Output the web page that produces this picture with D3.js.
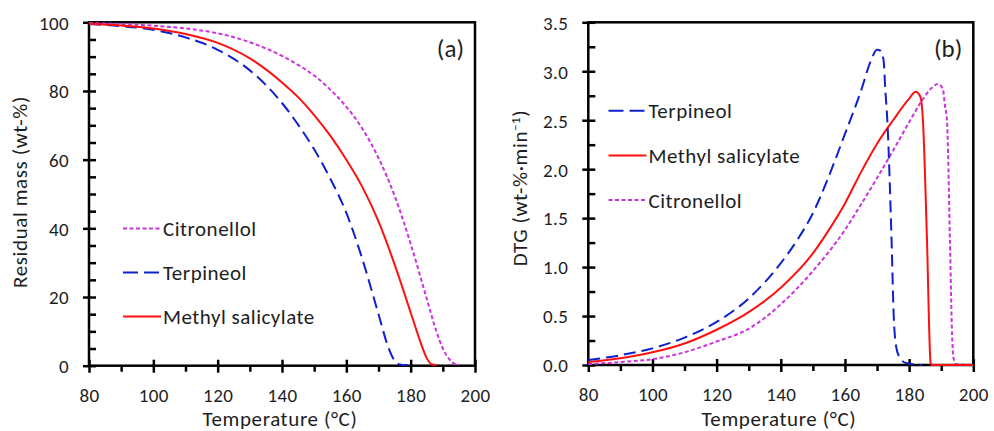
<!DOCTYPE html>
<html>
<head>
<meta charset="utf-8">
<script src="https://cdn.jsdelivr.net/npm/d3@7"></script>
<style>
  body { margin: 0; background: #fff; }
  text { font-family: Carlito, Lato, sans-serif; fill: #1e1e1e; }
</style>
</head>
<body>
<svg id="chart" width="994" height="431"></svg>
<script>

// ---- panel (a): residual mass, wt-%
var tgaTerpT = [80, 90, 100, 110, 120, 130, 140, 145, 150, 155, 160, 165, 170, 173, 175, 177, 179];
var tgaTerp  = [99.5, 98.9, 97.8, 95.6, 92.0, 86.0, 76.5, 70.2, 63.0, 54.5, 44.5, 31.0, 15.0, 5.5, 1.5, 0.3, 0.2];

var tgaMethT = [80, 90, 100, 110, 120, 130, 140, 145, 150, 155, 160, 165, 170, 175, 180, 183, 185, 186.5, 188];
var tgaMeth  = [99.6, 99.1, 98.2, 96.6, 94.0, 89.5, 82.5, 78.2, 73.0, 67.0, 60.0, 52.0, 42.0, 29.5, 15.5, 7.0, 2.2, 0.4, 0.2];

var tgaCitrT = [80, 90, 100, 110, 120, 130, 140, 145, 150, 155, 160, 165, 170, 175, 180, 185, 188, 190, 192, 194, 195];
var tgaCitr  = [99.8, 99.5, 99.0, 98.2, 96.8, 94.2, 90.2, 87.6, 84.5, 80.4, 75.4, 69.0, 60.5, 49.5, 35.5, 19.5, 10.0, 5.0, 1.9, 0.4, 0.3];

// ---- panel (b): DTG, wt-%/min
var dtgTerpT = [80, 90, 100, 110, 120, 130, 140, 145, 150, 155, 160, 165, 168, 170, 171, 172, 172.6, 173.2, 174.5, 175.2, 175.8, 177, 179, 184];
var dtgTerp  = [0.05, 0.10, 0.17, 0.28, 0.44, 0.68, 1.04, 1.27, 1.55, 1.93, 2.36, 2.80, 3.10, 3.22, 3.21, 3.12, 2.80, 2.50, 1.30, 0.50, 0.22, 0.08, 0.02, 0];

var dtgMethT = [80, 90, 100, 110, 120, 130, 140, 150, 155, 160, 165, 170, 175, 180, 182, 183.5, 184.3, 185.5, 186.7, 187, 200];
var dtgMeth  = [0.03, 0.07, 0.13, 0.22, 0.36, 0.54, 0.79, 1.14, 1.38, 1.65, 1.97, 2.26, 2.50, 2.72, 2.79, 2.74, 2.50, 1.35, 0.02, 0, 0];

var dtgCitrT = [80, 90, 100, 110, 120, 130, 140, 150, 160, 165, 170, 175, 180, 184, 187, 189, 190.5, 191.2, 191.8, 192.7, 193.4, 193.8, 194.5, 200];
var dtgCitr  = [0.01, 0.03, 0.06, 0.13, 0.24, 0.37, 0.62, 0.96, 1.38, 1.64, 1.91, 2.19, 2.48, 2.70, 2.83, 2.87, 2.82, 2.64, 2.50, 1.30, 0.30, 0.08, 0.01, 0];

var xTicks = [80, 100, 120, 140, 160, 180, 200];
var xMinor = [90, 110, 130, 150, 170, 190];
var yTicksA = [0, 20, 40, 60, 80, 100];
var yMinorA = [5, 10, 15, 25, 30, 35, 45, 50, 55, 65, 70, 75, 85, 90, 95];
var yTicksB = [0, 0.5, 1, 1.5, 2, 2.5, 3, 3.5];
var yMinorB = [0.25, 0.75, 1.25, 1.75, 2.25, 2.75, 3.25];

var styles = {
  terp: { name: "Terpineol", color: "#1020cc", dash: "12,6" },
  meth: { name: "Methyl salicylate", color: "#ff1010", dash: null },
  citr: { name: "Citronellol", color: "#cc33dd", dash: "4,2.5" }
};

var svg = d3.select("#chart");

function zip(xs, ys) {
  return xs.map(function(t, i) { return { t: t, v: ys[i] }; });
}

function drawPanel(p) {
  var x = d3.scaleLinear().domain([80, 200]).range([p.left, p.right]);
  var y = d3.scaleLinear().domain(p.yDomain).range([p.bottom, p.top]);
  var g = svg.append("g");

  // x axis, major ticks crossing the line, minor ticks outside
  var xa = g.append("g")
      .attr("transform", "translate(0," + p.bottom + ")")
      .call(d3.axisBottom(x).tickValues(xTicks).tickSizeInner(7).tickSizeOuter(0));
  xa.select(".domain").remove();
  xa.selectAll(".tick line").attr("y1", -6).attr("stroke", "#000").attr("stroke-width", 2.5);
  xa.selectAll(".tick text").attr("y", 36).attr("dy", 0)
      .attr("font-size", 19).attr("letter-spacing", 0.4);

  var xm = g.append("g")
      .attr("transform", "translate(0," + p.bottom + ")")
      .call(d3.axisBottom(x).tickValues(xMinor).tickSize(6).tickFormat(""));
  xm.select(".domain").remove();
  xm.selectAll(".tick line").attr("stroke", "#000").attr("stroke-width", 2.5);

  // y axis, major ticks crossing, minor ticks inside
  var ya = g.append("g")
      .attr("transform", "translate(" + p.left + ",0)")
      .call(d3.axisLeft(y).tickValues(p.yTicks).tickSizeInner(6).tickSizeOuter(0).tickFormat(p.fmt));
  ya.select(".domain").remove();
  ya.selectAll(".tick line").attr("x1", 7).attr("stroke", "#000").attr("stroke-width", 2.5);
  ya.selectAll(".tick text").attr("x", -20).attr("dy", "0.36em")
      .attr("font-size", 19).attr("letter-spacing", 0.4);

  var ym = g.append("g")
      .attr("transform", "translate(" + p.left + ",0)")
      .call(d3.axisLeft(y).tickValues(p.yMinor).tickSize(-7).tickFormat(""));
  ym.select(".domain").remove();
  ym.selectAll(".tick line").attr("stroke", "#000").attr("stroke-width", 2.5);

  // frame
  g.append("rect")
      .attr("x", p.left).attr("y", p.top)
      .attr("width", p.right - p.left).attr("height", p.bottom - p.top)
      .attr("fill", "none").attr("stroke", "#000").attr("stroke-width", 2.5);

  var line = d3.line()
      .x(function(d) { return x(d.t); })
      .y(function(d) { return y(d.v); })
      .curve(d3.curveMonotoneX);

  p.series.forEach(function(s) {
    var st = styles[s.key];
    g.append("path")
        .datum(zip(s.t, s.v))
        .attr("d", line)
        .attr("fill", "none")
        .attr("stroke", st.color)
        .attr("stroke-width", 2)
        .attr("stroke-dasharray", st.dash);
  });

  // legend
  p.legend.forEach(function(k, i) {
    var st = styles[k];
    var ly = p.legY + i * p.legStep;
    g.append("line")
        .attr("x1", p.legX).attr("x2", p.legX + 38)
        .attr("y1", ly).attr("y2", ly)
        .attr("stroke", st.color).attr("stroke-width", 2)
        .attr("stroke-dasharray", k == "terp" ? "15,6" : st.dash);
    g.append("text")
        .attr("x", p.legX + 40).attr("y", ly)
        .attr("dy", "0.36em")
        .attr("font-size", 21).attr("letter-spacing", 0.5)
        .text(st.name);
  });

  // panel letter
  g.append("text")
      .attr("x", p.right - 11).attr("y", p.top + 35)
      .attr("text-anchor", "end")
      .attr("font-size", 25)
      .text(p.letter);

  // x title
  g.append("text")
      .attr("x", (p.left + p.right) / 2 - 2).attr("y", 426)
      .attr("text-anchor", "middle")
      .attr("font-size", 21).attr("letter-spacing", 0.6)
      .text("Temperature  (°C)");

  return g;
}

var gA = drawPanel({
  left: 89, right: 475, top: 22.3, bottom: 365.7,
  yDomain: [0, 100], yTicks: yTicksA, yMinor: yMinorA, fmt: d3.format("d"),
  series: [
    { key: "citr", t: tgaCitrT, v: tgaCitr },
    { key: "terp", t: tgaTerpT, v: tgaTerp },
    { key: "meth", t: tgaMethT, v: tgaMeth }
  ],
  legend: ["citr", "terp", "meth"], legX: 123, legY: 228.5, legStep: 44,
  letter: "(a)"
});

gA.append("text")
    .attr("transform", "translate(27,192) rotate(-90)")
    .attr("text-anchor", "middle")
    .attr("font-size", 21).attr("letter-spacing", 0.6)
    .text("Residual mass (wt-%)");

var gB = drawPanel({
  left: 588.3, right: 973.3, top: 22.3, bottom: 365,
  yDomain: [0, 3.5], yTicks: yTicksB, yMinor: yMinorB, fmt: d3.format(".1f"),
  series: [
    { key: "citr", t: dtgCitrT, v: dtgCitr },
    { key: "meth", t: dtgMethT, v: dtgMeth },
    { key: "terp", t: dtgTerpT, v: dtgTerp }
  ],
  legend: ["terp", "meth", "citr"], legX: 608.5, legY: 110.7, legStep: 44.7,
  letter: "(b)"
});

var yt = gB.append("text")
    .attr("transform", "translate(527,188) rotate(-90)")
    .attr("text-anchor", "middle")
    .attr("font-size", 21).attr("letter-spacing", 0.6);
yt.append("tspan").text("DTG (wt-%·min");
yt.append("tspan").attr("baseline-shift", "super").attr("font-size", 13).text("−1");
yt.append("tspan").text(")");

</script>
</body>
</html>
